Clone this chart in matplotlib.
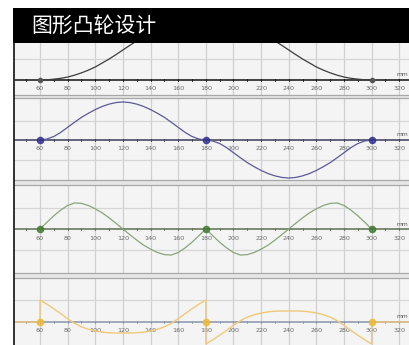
import numpy as np
import matplotlib
matplotlib.use("Agg")
import matplotlib.pyplot as plt
from matplotlib.patches import Rectangle

plt.rcParams['font.family'] = ['Noto Sans CJK SC', 'DejaVu Sans']

W, H = 409, 345
title = "图形凸轮设计"
unit_label = "mm"

tick_values = [40, 60, 80, 100, 120, 140, 160, 180, 200, 220, 240, 260, 280, 300, 320]
tick_labels = ["40", "60", "80", "100", "120", "140", "160", "180", "200",
               "220", "240", "260", "280", "300", "320"]
key_angles = [60, 180, 300]

# cam angle samples for the rise (60-180) and return (180-300) segments, deg
rise_angles = [60, 65, 70, 75, 80, 85, 90, 95, 100, 105, 110, 115, 120,
               125, 130, 135, 140, 145, 150, 155, 160, 165, 170, 175, 180]
return_angles = [180, 185, 190, 195, 200, 205, 210, 215, 220, 225, 230, 235, 240,
                 245, 250, 255, 260, 265, 270, 275, 280, 285, 290, 295, 300]

# displacement
s_rise = [0, 0.1, 0.4, 0.8, 1.4, 2.3, 3.4, 4.7, 6.2, 8.1, 10.0, 12.1, 14.3,
          16.5, 18.6, 20.5, 22.4, 24.0, 25.4, 26.5, 27.2, 27.8, 28.2, 28.5, 28.6]
s_return = [28.6, 28.5, 28.2, 27.8, 27.2, 26.5, 25.4, 24.0, 22.4, 20.5, 18.6, 16.5, 14.3,
            12.1, 10.0, 8.1, 6.2, 4.7, 3.4, 2.3, 1.4, 0.8, 0.4, 0.1, 0]
# velocity
v_rise = [0, 0.5, 1.8, 3.9, 6.5, 9.1, 11.6, 13.7, 15.6, 17.2, 18.4, 19.2, 19.5,
          19.2, 18.4, 17.2, 15.6, 13.7, 11.6, 9.1, 6.5, 3.9, 1.8, 0.5, 0]
v_return = [0, -0.5, -1.8, -3.9, -6.5, -9.1, -11.6, -13.7, -15.6, -17.2, -18.4, -19.2, -19.5,
            -19.2, -18.4, -17.2, -15.6, -13.7, -11.6, -9.1, -6.5, -3.9, -1.8, -0.5, 0]
# acceleration
a_rise = [0, 3.2, 6.3, 9.0, 11.2, 12.4, 12.2, 11.2, 9.6, 7.7, 5.3, 2.7, 0,
          -2.7, -5.3, -7.7, -9.6, -11.2, -12.2, -12.4, -11.2, -9.0, -6.3, -3.2, 0]
a_return = [0, -3.2, -6.3, -9.0, -11.2, -12.4, -12.2, -11.2, -9.6, -7.7, -5.3, -2.7, 0,
            2.7, 5.3, 7.7, 9.6, 11.2, 12.2, 12.4, 11.2, 9.0, 6.3, 3.2, 0]
# jerk
j_rise = [10, 8.1, 6.0, 3.8, 1.5, -0.6, -2.2, -3.3, -4.1, -4.6, -4.9, -5.0, -5.0,
          -5.0, -4.9, -4.6, -4.1, -3.3, -2.2, -0.6, 1.5, 3.8, 6.0, 8.1, 10]
j_return = [-10, -8.1, -6.0, -3.8, -1.5, 0.6, 2.2, 3.3, 4.1, 4.6, 4.9, 5.0, 5.0,
            5.0, 4.9, 4.6, 4.1, 3.3, 2.2, 0.6, -1.5, -3.8, -6.0, -8.1, -10]

# (top px, bottom px, zero-line px, px per unit, gridlines, curve, axis, marker colours)
panels = [
    dict(top=8, bottom=95, zero=80, k=2.1, grid=[10, 20],
         rise=s_rise, ret=s_return, c="#3c3c3c", axc="#111111", mc="#555555", ms=0),
    dict(top=98, bottom=180, zero=140, k=1.95, grid=[-10, 10],
         rise=v_rise, ret=v_return, c="#5a5a96", axc="#3c3c5a", mc="#2e2e90", ms=4.5),
    dict(top=185, bottom=273, zero=229, k=2.1, grid=[-10, 10],
         rise=a_rise, ret=a_return, c="#8aa47a", axc="#5e7050", mc="#3f7a32", ms=4.5),
    dict(top=278, bottom=345, zero=322, k=2.2, grid=[10],
         rise=j_rise, ret=j_return, c="#f2c878", axc="#8a96aa", mc="#f0b830", ms=4.5),
]

x_left = 60 + (14 - 40) / 1.382
x_right = 60 + (W - 40) / 1.382

fig = plt.figure(figsize=(W / 100, H / 100), dpi=100)
fig.patch.set_facecolor("white")

for i, p in enumerate(panels):
    ax = fig.add_axes([14 / W, 1 - p["bottom"] / H, 1 - 14 / W, (p["bottom"] - p["top"]) / H])
    ax.set_facecolor("#f4f4f4")
    ax.set_xlim(x_left, x_right)
    ax.set_ylim((p["zero"] - p["bottom"]) / p["k"], (p["zero"] - p["top"]) / p["k"])
    for sp in ax.spines.values():
        sp.set_visible(False)
    ax.set_xticks([])
    ax.set_yticks([])

    for t in tick_values:
        ax.axvline(t, color="#cfcfcf", lw=0.9, zorder=1)
    for g in p["grid"]:
        ax.axhline(g, color="#d6d6d6", lw=0.9, zorder=1)
    ax.axhline(0, color=p["axc"], lw=1.1, zorder=2)

    # small ticks on the zero line
    for t in range(50, 330, 10):
        ax.plot([t, t], [-1.2 / p["k"], 1.2 / p["k"]], color=p["axc"], lw=0.6, zorder=2)

    for t, lab in zip(tick_values, tick_labels):
        ax.annotate(lab, xy=(t, 0), xytext=(0, -9), textcoords="offset pixels",
                    ha="center", va="center", fontsize=4.6, color="#6a6a6a",
                    family="DejaVu Sans", zorder=3)
    ax.annotate(unit_label, xy=(x_right, 0), xytext=(-1, 5), textcoords="offset pixels",
                ha="right", va="center", fontsize=4.3, color="#555555",
                family="DejaVu Sans", zorder=3)

    if i == 3:
        # jerk jumps at the segment ends
        xs = [x_left, 60] + rise_angles + return_angles + [300, x_right]
        ys = [0, 0] + p["rise"] + p["ret"] + [0, 0]
        ax.plot(xs, ys, color=p["c"], lw=1.0, zorder=4)
    else:
        ax.plot(rise_angles + return_angles, p["rise"] + p["ret"], color=p["c"], lw=0.9, zorder=4)
    if p["ms"]:
        ax.plot(key_angles, [0, 0, 0], "o", ms=p["ms"], mfc=p["mc"], mec=p["mc"],
                alpha=0.8, zorder=5)
    else:
        ax.plot([60, 300], [0, 0], "o", ms=3, mfc=p["mc"], mec=p["mc"], zorder=5)

# double separators between the panels
for y0, y1 in [(95, 98), (180, 185), (273, 278)]:
    fig.patches.append(Rectangle((14 / W, 1 - y1 / H), 1, (y1 - y0) / H,
                                 transform=fig.transFigure, facecolor="#e6e6e6",
                                 edgecolor="none", zorder=5))
    for yy in (y0, y1):
        fig.add_artist(plt.Line2D([14 / W, 1], [1 - yy / H, 1 - yy / H], color="#a8a8a8",
                                  lw=0.9, transform=fig.transFigure, zorder=6))

# left border
fig.add_artist(plt.Line2D([14 / W, 14 / W], [0, 1 - 43 / H], color="#222222", lw=1.3,
                          transform=fig.transFigure, zorder=7))

# title bar
fig.patches.append(Rectangle((13 / W, 1 - 43 / H), 1, 35 / H, transform=fig.transFigure,
                             facecolor="black", edgecolor="none", zorder=10))
fig.text(31 / W, 1 - 26 / H, title, color="white", fontsize=15, ha="left", va="center",
         zorder=11)

fig.savefig("out.png", dpi=100)
